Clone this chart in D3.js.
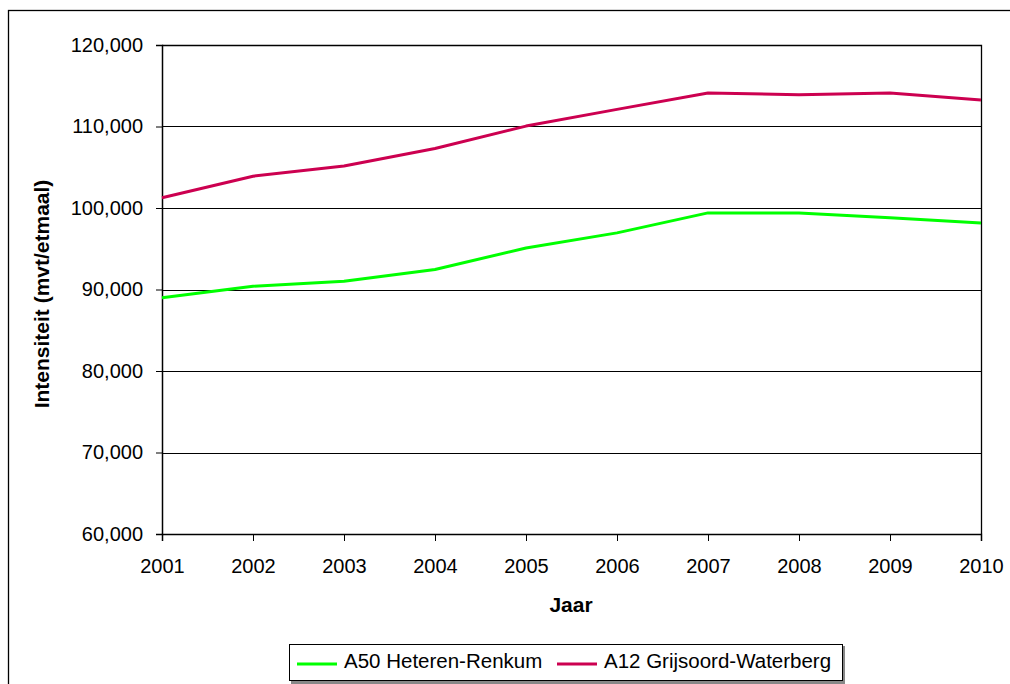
<!DOCTYPE html>
<html>
<head>
<meta charset="utf-8">
<script src="https://cdn.jsdelivr.net/npm/d3@7"></script>
<style>
  html, body { margin: 0; padding: 0; background: #fff; }
  svg { display: block; font-family: "Liberation Sans", Arial, sans-serif; }
</style>
</head>
<body>
<svg id="chart" width="1010" height="684"></svg>
<script>
// Yearly traffic intensity (motor vehicles per day)
const years = [2001, 2002, 2003, 2004, 2005, 2006, 2007, 2008, 2009, 2010];
const a50 = [89000, 90400, 91000, 92450, 95100, 96950, 99400, 99400, 98800, 98150];
const a12 = [101250, 103900, 105150, 107300, 110050, 112100, 114100, 113900, 114100, 113250];
const seriesNames = ["A50 Heteren-Renkum", "A12 Grijsoord-Waterberg"];
const seriesColors = ["#00ff00", "#cc0050"];
const yTicks = [60000, 70000, 80000, 90000, 100000, 110000, 120000];

const svg = d3.select("#chart");
const plot = { left: 162, right: 981, top: 45, bottom: 534 };

// Outer chart frame
svg.append("rect")
  .attr("x", 8.5).attr("y", 10.5)
  .attr("width", 1010).attr("height", 700)
  .attr("fill", "#fff").attr("stroke", "#000").attr("stroke-width", 1.3);

const x = d3.scalePoint().domain(years).range([plot.left, plot.right]);
const y = d3.scaleLinear().domain([60000, 120000]).range([plot.bottom, plot.top]);

// Horizontal gridlines
svg.append("g").selectAll("line")
  .data(yTicks.filter(t => t > 60000))
  .join("line")
  .attr("x1", plot.left).attr("x2", plot.right)
  .attr("y1", d => Math.round(y(d)) + 0.5).attr("y2", d => Math.round(y(d)) + 0.5)
  .attr("stroke", "#000").attr("stroke-width", 1);

// Plot area border (top and right)
svg.append("path")
  .attr("d", `M${plot.left},${plot.top + 0.5}H${plot.right + 0.5}V${plot.bottom}`)
  .attr("fill", "none").attr("stroke", "#000").attr("stroke-width", 1.3);

const fmt = d3.format(",");

// Y axis
const yAxis = svg.append("g")
  .attr("transform", `translate(${plot.left},0)`)
  .call(d3.axisLeft(y).tickValues(yTicks).tickFormat(fmt).tickSize(6).tickPadding(13));
yAxis.select(".domain").attr("stroke", "#000").attr("stroke-width", 1.5);
yAxis.selectAll("text").attr("font-size", 20).attr("fill", "#000")
  .attr("font-family", "'Liberation Sans', Arial, sans-serif");

// X axis
const xAxis = svg.append("g")
  .attr("transform", `translate(0,${plot.bottom})`)
  .call(d3.axisBottom(x).tickFormat(d3.format("d")).tickSize(7).tickPadding(18));
xAxis.select(".domain").attr("stroke", "#000").attr("stroke-width", 1.5);
xAxis.selectAll("text").attr("font-size", 20).attr("fill", "#000")
  .attr("font-family", "'Liberation Sans', Arial, sans-serif");

// Axis titles
svg.append("text")
  .attr("x", 571).attr("y", 612)
  .attr("text-anchor", "middle")
  .attr("font-size", 21).attr("font-weight", "bold")
  .text("Jaar");

svg.append("text")
  .attr("transform", "translate(49,294) rotate(-90)")
  .attr("text-anchor", "middle")
  .attr("font-size", 21).attr("font-weight", "bold")
  .text("Intensiteit (mvt/etmaal)");

// Series lines
const line = d3.line().x((d, i) => x(years[i])).y(d => y(d));
[a50, a12].forEach((vals, i) => {
  svg.append("path")
    .datum(vals)
    .attr("d", line)
    .attr("fill", "none")
    .attr("stroke", seriesColors[i])
    .attr("stroke-width", 3)
    .attr("stroke-linejoin", "round");
});

// Legend
const legend = svg.append("g");
legend.append("rect")
  .attr("x", 291).attr("y", 646).attr("width", 554).attr("height", 38)
  .attr("fill", "#888");
legend.append("rect")
  .attr("x", 289.5).attr("y", 644.5).attr("width", 553).attr("height", 36)
  .attr("fill", "#fff").attr("stroke", "#000").attr("stroke-width", 1);

const legendItems = [{ x0: 297, tx: 344 }, { x0: 557, tx: 604 }];
legendItems.forEach((it, i) => {
  legend.append("line")
    .attr("x1", it.x0).attr("x2", it.x0 + 40)
    .attr("y1", 664).attr("y2", 664)
    .attr("stroke", seriesColors[i]).attr("stroke-width", 3);
  legend.append("text")
    .attr("x", it.tx).attr("y", 668)
    .attr("font-size", 20.5)
    .text(seriesNames[i]);
});
</script>
</body>
</html>
